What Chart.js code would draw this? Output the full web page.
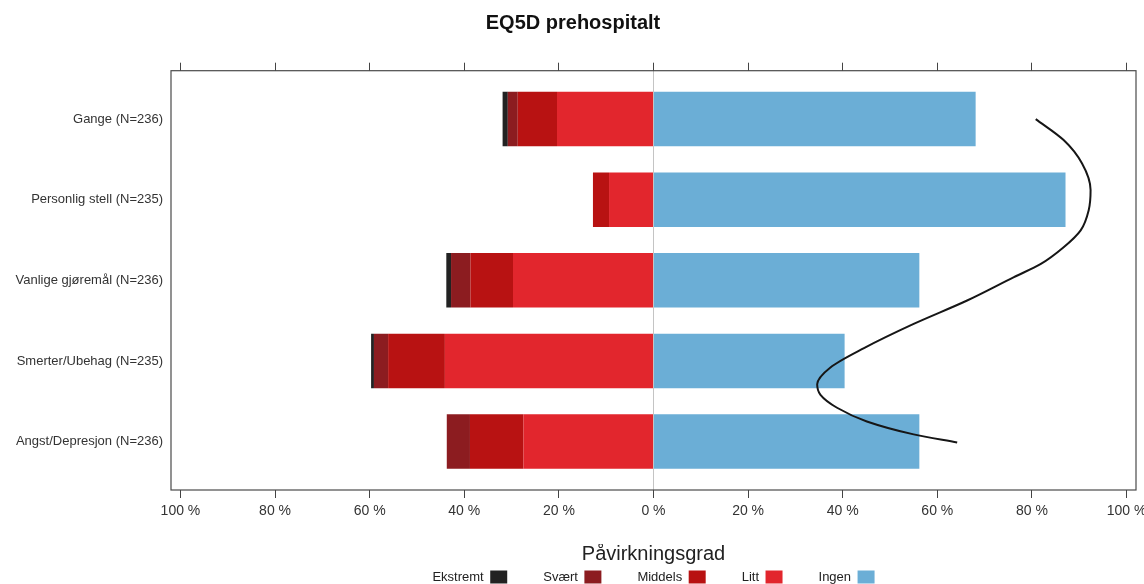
<!DOCTYPE html>
<html><head><meta charset="utf-8">
<script src="https://cdn.jsdelivr.net/npm/chart.js@4/dist/chart.umd.min.js"></script>
<style>html,body{margin:0;padding:0;background:#fff}#wrap{width:1144px;height:584px;position:relative}</style>
</head><body><div id="wrap"><canvas id="c"></canvas></div>
<script>
// ---- data (percent of respondents) ----
const categories = ['Gange (N=236)', 'Personlig stell (N=235)', 'Vanlige gjøremål (N=236)', 'Smerter/Ubehag (N=235)', 'Angst/Depresjon (N=236)'];
const ekstremt = [1.1, 0.0, 1.0, 0.6, 0.0];
const svaert   = [2.1, 0.0, 4.1, 3.0, 4.9];
const middels  = [8.3, 3.4, 9.0, 12.0, 11.3];
const litt     = [20.4, 9.4, 29.7, 44.1, 27.5];
const ingen    = [68.1, 87.1, 56.2, 40.4, 56.2];
// freehand curve drawn on the chart (x in %, y in category units)
const curveX = [80.8, 86.7, 90.6, 92.4, 92.0, 90.3, 86.7, 81.8, 76.2, 66.3, 55.0, 44.5, 37.4, 34.6, 35.3, 38.8, 45.1, 55.0, 64.2];
const curveY = [0.00, 0.26, 0.55, 0.88, 1.13, 1.38, 1.59, 1.80, 1.96, 2.25, 2.54, 2.84, 3.08, 3.29, 3.42, 3.58, 3.75, 3.91, 4.01];
const xTickValues = [-100, -80, -60, -40, -20, 0, 20, 40, 60, 80, 100];
const seriesLabels = ['Ingen', 'Litt', 'Middels', 'Svært', 'Ekstremt'];
const seriesColors = ['#6baed6', '#e2262d', '#b81212', '#8c1c20', '#222222'];

const idx = categories.map((_, i) => i);
const FONT = "'Liberation Sans', Arial, Helvetica, sans-serif";
Chart.defaults.font.family = FONT;
Chart.defaults.color = '#333';

function barSet(label, color, vals, sign) {
  return {
    type: 'bar', label: label, backgroundColor: color, borderWidth: 0,
    data: idx.map(i => ({ x: sign * vals[i], y: i })),
    categoryPercentage: 1, barPercentage: 0.676
  };
}

const frame = {
  id: 'frame',
  afterDraw(chart) {
    const a = chart.chartArea, ctx = chart.ctx;
    ctx.save();
    ctx.strokeStyle = '#4a4a4a';
    ctx.lineWidth = 1.2;
    ctx.strokeRect(a.left, a.top, a.right - a.left, a.bottom - a.top);
    ctx.restore();
  }
};

const setTicks = s => { s.ticks = xTickValues.map(v => ({ value: v })); };

new Chart(document.getElementById('c'), {
  type: 'bar',
  data: {
    datasets: [
      {
        type: 'line', label: '', data: curveX.map((x, i) => ({ x: x, y: curveY[i] })),
        borderColor: '#161616', borderWidth: 2, pointRadius: 0,
        cubicInterpolationMode: 'monotone', fill: false
      },
      barSet(seriesLabels[0], seriesColors[0], ingen, 1),
      barSet(seriesLabels[1], seriesColors[1], litt, -1),
      barSet(seriesLabels[2], seriesColors[2], middels, -1),
      barSet(seriesLabels[3], seriesColors[3], svaert, -1),
      barSet(seriesLabels[4], seriesColors[4], ekstremt, -1)
    ]
  },
  options: {
    indexAxis: 'y',
    responsive: true, maintainAspectRatio: false,
    animation: false, events: [],
    layout: { padding: { left: 10, right: 8, top: 0, bottom: 0 } },
    scales: {
      x: {
        type: 'linear', position: 'bottom', min: -102, max: 102, stacked: true, offset: false,
        afterBuildTicks: setTicks,
        afterFit: s => { s.height = 54; s.paddingLeft = 0; s.paddingRight = 0; },
        ticks: { padding: 5, font: { size: 14 }, color: '#333', callback: v => Math.abs(v) + ' %' },
        grid: {
          color: c => (c.tick && c.tick.value === 0) ? '#c4c4c4' : 'rgba(0,0,0,0)',
          tickColor: '#444', tickLength: 8, lineWidth: 1
        },
        border: { display: false }
      },
      x2: {
        type: 'linear', position: 'top', min: -102, max: 102, offset: false,
        afterBuildTicks: setTicks,
        afterFit: s => { s.height = 8; s.paddingLeft = 0; s.paddingRight = 0; },
        ticks: { display: false },
        grid: { drawOnChartArea: false, color: 'rgba(0,0,0,0)', tickColor: '#444', tickLength: 8 },
        border: { display: false }
      },
      y: {
        type: 'linear', min: -0.6, max: 4.6, reverse: true, stacked: true, offset: false,
        afterBuildTicks: s => { s.ticks = idx.map(i => ({ value: i })); },
        afterFit: s => { s.width = 161; s.paddingTop = 0; s.paddingBottom = 0; },
        ticks: { padding: 8, font: { size: 13 }, color: '#333', callback: v => categories[v] },
        grid: { display: false, drawTicks: false, offset: false },
        border: { display: false }
      }
    },
    plugins: {
      title: {
        display: true, text: 'EQ5D prehospitalt', color: '#111',
        font: { size: 20, weight: 'bold' }, padding: { top: 11, bottom: 27.7 }
      },
      legend: {
        position: 'bottom', fullSize: false, rtl: true, maxHeight: 40,
        title: { display: true, text: 'Påvirkningsgrad', color: '#222', font: { size: 20 }, padding: { top: 0, bottom: -33.5 } },
        labels: {
          boxWidth: 17, boxHeight: 13, padding: 36, color: '#222', font: { size: 13 },
          filter: item => item.datasetIndex !== 0
        }
      },
      tooltip: { enabled: false }
    }
  },
  plugins: [frame]
});
</script>
</body></html>
